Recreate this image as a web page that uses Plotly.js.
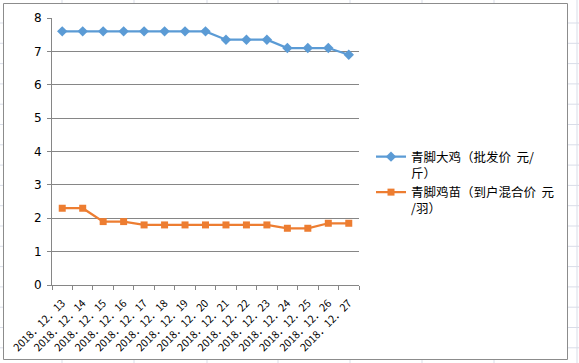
<!DOCTYPE html>
<html><head><meta charset="utf-8">
<script src="https://cdn.plot.ly/plotly-3.0.1.min.js"></script>
<style>html,body{margin:0;padding:0;background:#fff}#c{width:579px;height:363px}</style>
</head><body><div id="c"></div>
<script>
const dates = ["2018．12．13","2018．12．14","2018．12．15","2018．12．16","2018．12．17","2018．12．18","2018．12．19","2018．12．20","2018．12．21","2018．12．22","2018．12．23","2018．12．24","2018．12．25","2018．12．26","2018．12．27"];
const bigChicken = [7.6,7.6,7.6,7.6,7.6,7.6,7.6,7.6,7.35,7.35,7.35,7.1,7.1,7.1,6.9];
const chick = [2.3,2.3,1.9,1.9,1.8,1.8,1.8,1.8,1.8,1.8,1.8,1.7,1.7,1.85,1.85];
const name1 = "青脚大鸡（批发价  元/<br>斤）";
const name2 = "青脚鸡苗（到户混合价  元<br>/羽）";

const W = 579, H = 363, L = 52, R = 220, T = 18, B = 78;
const pw = W - L - R, ph = H - T - B;
const px = v => (v - L) / pw;
const py = v => (H - B - v) / ph;

const shapes = [];
shapes.push({type:'rect', xref:'paper', yref:'paper', x0:px(3.5), x1:px(567.5), y0:py(3.5), y1:py(359.5), line:{color:'#8c8c8c', width:1}});
const cell = '#d9dde8';
[62,134,207,278,350,422,494].forEach(x=>{
  shapes.push({type:'line', xref:'paper', yref:'paper', x0:px(x), x1:px(x), y0:py(0), y1:py(3), line:{color:cell,width:1}, layer:'below'});
  shapes.push({type:'line', xref:'paper', yref:'paper', x0:px(x), x1:px(x), y0:py(360), y1:py(363), line:{color:cell,width:1}, layer:'below'});
});
shapes.push({type:'line', xref:'paper', yref:'paper', x0:px(577), x1:px(577), y0:py(0), y1:py(363), line:{color:cell,width:1}, layer:'below'});
for (let k=0;k<17;k++){
  const y = 23 + k*20.3;
  shapes.push({type:'line', xref:'paper', yref:'paper', x0:px(0), x1:px(3), y0:py(y), y1:py(y), line:{color:cell,width:1}, layer:'below'});
  shapes.push({type:'line', xref:'paper', yref:'paper', x0:px(568), x1:px(579), y0:py(y), y1:py(y), line:{color:cell,width:1}, layer:'below'});
}

const traces = [
  {x:dates, y:bigChicken, name:name1, type:'scatter', mode:'lines+markers',
   line:{color:'#5B9BD5', width:2.25}, marker:{symbol:'diamond', size:8, color:'#5B9BD5'}},
  {x:dates, y:chick, name:name2, type:'scatter', mode:'lines+markers',
   line:{color:'#ED7D31', width:2.25}, marker:{symbol:'square', size:7, color:'#ED7D31'}}
];

const layout = {
  width:W, height:H,
  margin:{l:L, r:R, t:T, b:B, pad:0},
  paper_bgcolor:'#fff', plot_bgcolor:'#fff',
  font:{family:'"Noto Sans CJK SC", "DejaVu Sans", sans-serif', size:11, color:'#000'},
  showlegend:true,
  xaxis:{type:'category', range:[-0.5,14.5], tickangle:-45, tickson:'boundaries',
    ticks:'outside', ticklen:4, tickcolor:'#868686', showline:true, linecolor:'#868686', linewidth:1,
    showgrid:false, zeroline:false, ticklabelstandoff:7,
    tickfont:{size:10.5, family:'"Noto Sans CJK SC", sans-serif'}, fixedrange:true},
  yaxis:{range:[0,8], dtick:1, tick0:0, ticks:'outside', ticklen:4, tickcolor:'#868686',
    showline:true, linecolor:'#868686', linewidth:1, showgrid:true, gridcolor:'#868686', gridwidth:1,
    zeroline:false, tickfont:{size:12, family:'"DejaVu Sans", sans-serif'}, ticklabelstandoff:3, fixedrange:true},
  legend:{x:px(371), y:py(142), xanchor:'left', yanchor:'top', bgcolor:'rgba(0,0,0,0)', valign:'top',
    font:{size:12.5, color:'#000', family:'"Noto Sans CJK SC", sans-serif'}, tracegroupgap:0, itemwidth:30},
  shapes:shapes
};
Plotly.newPlot('c', traces, layout, {displayModeBar:false, staticPlot:true});
</script></body></html>
